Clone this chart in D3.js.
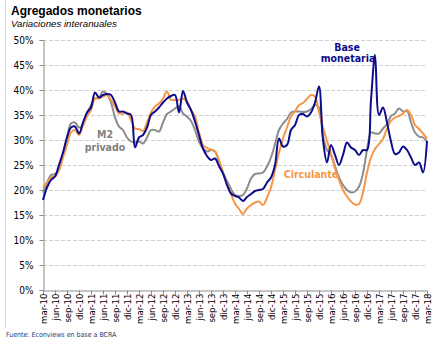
<!DOCTYPE html>
<html><head><meta charset="utf-8">
<script src="https://cdn.jsdelivr.net/npm/d3@7"></script>
<style>body{margin:0;background:#fff}svg{display:block}</style>
</head><body>
<script>
const tickLabels=["mar-10","jun-10","sep-10","dic-10","mar-11","jun-11","sep-11","dic-11","mar-12","jun-12","sep-12","dic-12","mar-13","jun-13","sep-13","dic-13","mar-14","jun-14","sep-14","dic-14","mar-15","jun-15","sep-15","dic-15","mar-16","jun-16","sep-16","dic-16","mar-17","jun-17","sep-17","dic-17","mar-18"];
const yTicks=[0,5,10,15,20,25,30,35,40,45,50];
const baseMonetaria=[18,20.5,22,22.7,25,27.5,30.5,32.5,32.7,31.3,33.5,35.5,36.5,39.5,38.5,39,39.2,39,37.5,35.7,35.7,35.3,35,28.5,30.5,31,32.5,35,35.7,36.5,37.5,38.3,38.8,39,35.5,39.8,37.5,36,33.7,31,28.3,26.8,26,26.3,24.8,23.3,21,19.3,18.8,18.5,17.8,18.6,19.2,19.8,20,20.2,21.5,22.5,25,30.3,28.7,29,32,33,35,35.2,34.7,35.5,37.5,40.7,30,25.5,29,27,25,27,29.5,28.5,28,27,28,28,38,47,35,36.5,33.5,29.7,27.2,27.5,28.7,28,26.5,25,25.5,23.5,29.8];
const m2Privado=[19.5,21.5,23,23.2,24,27,30.5,33.3,33.5,32.5,33,35.3,37,38.3,38.5,39.7,39.2,37.5,34.5,32.7,32,30.5,29.7,29.5,29.7,29.3,30.5,32,32,31.7,33.5,35.2,35.7,36.3,36.8,35.3,34.7,33.8,32,29.7,28.3,27.7,28,27.7,25.7,23.5,21.8,20.2,19,18.8,19,20.3,22.3,23.2,23.3,23.5,24.7,26.5,29.2,32,33.3,34.2,35.5,35.7,35.7,35.6,35.7,36.2,37,36.5,30.7,28,27,24.8,22.5,21,20,19.5,19.7,20.7,23.3,28,31.5,31.3,31.3,32.3,33.2,34.8,35.3,36.3,35.7,35.8,33.5,31.5,30.7,30.5,29.7];
const circulante=[20.5,21.5,22.5,22.7,24,26.5,29,31.5,32,31,33,34.7,36,38.3,38.3,38.7,39,38,36.7,35.3,35.3,35.5,34,32.3,32.2,31.8,33.5,35.5,36.7,37.3,38.3,39.7,38,38,38,38.3,37.7,36,34.7,31.5,29,28.4,28.1,27.7,26,23.5,21.3,19.2,17.3,16.2,15.2,16.3,17,17.5,17.7,17,18.5,20.5,24,27.5,30.3,32.5,34.7,35.7,37,37.4,38.2,39,38.7,35.5,32.5,29.8,27.3,24.3,22,20,18.7,17.7,17.1,17.2,19.5,23.5,26.5,28.2,29.2,30.2,32.3,33.8,34.5,34.8,35.3,36,35,33,32.2,31.3,30.3];

const W=444,H=340;
const svg=d3.select("body").append("svg").attr("width",W).attr("height",H);
const font="'DejaVu Sans Condensed','DejaVu Sans',sans-serif";
const x=d3.scaleLinear().domain([0,baseMonetaria.length-1]).range([43,427]);
const y=d3.scaleLinear().domain([0,50]).range([290,40]);

svg.append("line").attr("x1",5.5).attr("x2",5.5).attr("y1",0).attr("y2",328).attr("stroke","#d9d9d9");

svg.append("text").attr("x",11).attr("y",15).attr("font-family","'Liberation Sans',Arial,sans-serif").attr("font-weight","bold").attr("font-size",12).attr("fill","#000").text("Agregados monetarios");
svg.append("text").attr("x",11).attr("y",26.5).attr("font-family","'Liberation Sans',Arial,sans-serif").attr("font-style","italic").attr("font-size",9.7).attr("fill","#000").text("Variaciones interanuales");

// grid
svg.append("g").selectAll("line").data(yTicks.filter(d=>d>0)).join("line")
 .attr("x1",43).attr("x2",427).attr("y1",d=>y(d)+0.5).attr("y2",d=>y(d)+0.5)
 .attr("stroke","#d0d0d0").attr("stroke-dasharray","4,2");

// y axis
const ya=svg.append("g").attr("transform","translate(43.5,0)")
 .call(d3.axisLeft(y).tickValues(yTicks).tickSize(4).tickFormat(d=>d+"%"));
ya.select(".domain").attr("stroke","#8c8c8c");
ya.selectAll(".tick line").attr("stroke","#8c8c8c");
ya.selectAll("text").attr("font-family",font).attr("font-size",10).attr("fill","#000").attr("x",-10);

// x axis
const xa=svg.append("g").attr("transform","translate(0,290.5)")
 .call(d3.axisBottom(x).tickValues(d3.range(0,baseMonetaria.length,3)).tickSize(4).tickFormat((d,i)=>tickLabels[i]));
xa.select(".domain").attr("stroke","#8c8c8c");
xa.selectAll(".tick line").attr("stroke","#8c8c8c");
xa.selectAll("text").attr("font-family",font).attr("font-size",9.5).attr("fill","#000")
 .attr("transform","rotate(-90)").attr("text-anchor","end").attr("x",-3).attr("y",0).attr("dy","0.35em");

const line=d3.line().x((d,i)=>x(i)).y(d=>y(d)).curve(d3.curveCatmullRom.alpha(0.5));
const series=[[m2Privado,"#8c8c8c"],[circulante,"#f79646"],[baseMonetaria,"#0c0c8c"]];
series.forEach(([s,c])=>svg.append("path").attr("d",line(s)).attr("fill","none").attr("stroke",c).attr("stroke-width",2).attr("stroke-linejoin","round"));

// labels
const lab=(t,xx,yy,c)=>svg.append("text").attr("x",xx).attr("y",yy).attr("text-anchor","middle").attr("font-family",font).attr("font-weight","bold").attr("font-size",10.5).attr("fill",c).text(t);
lab("Base",347,51,"#0c0c8c");
lab("monetaria",348,62,"#0c0c8c");
lab("M2",105,138,"#808080");
lab("privado",105,151,"#808080");
lab("Circulante",311,178,"#f79646");

svg.append("text").attr("x",6).attr("y",337).attr("font-family",font).attr("font-size",7).attr("fill","#1f3b6e").text("Fuente: Econviews en base a BCRA");
</script>
</body></html>
